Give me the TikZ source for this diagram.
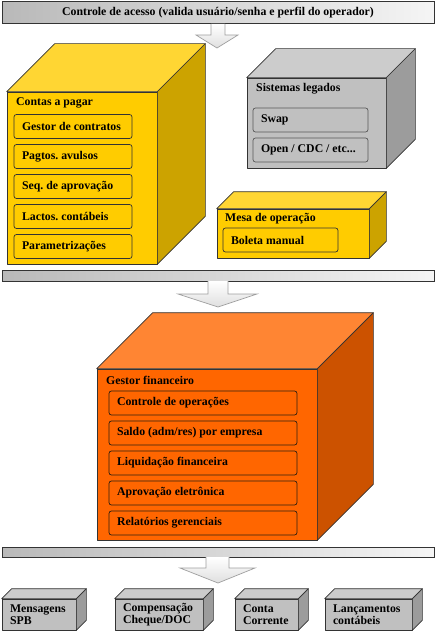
\documentclass[tikz,border=0pt]{standalone}
\usepackage{fontspec}
\setmainfont{Liberation Serif}
\usetikzlibrary{calc}
\frenchspacing

\definecolor{amarelo}{HTML}{FFCC00}
\definecolor{amarelotopo}{HTML}{FFD633}
\definecolor{amarelolado}{HTML}{CCA300}
\definecolor{cinza}{HTML}{C0C0C0}
\definecolor{cinzatopo}{HTML}{CCCCCC}
\definecolor{cinzalado}{HTML}{9C9C9C}
\definecolor{laranja}{HTML}{FF6600}
\definecolor{laranjatopo}{HTML}{FF8533}
\definecolor{laranjalado}{HTML}{CC5200}

% top and side faces of a box drawn behind a front node
\newcommand{\cubo}[4]{%
  \draw[face, fill=#3] (#1.north west) -- ++(#2,-#2) -- ($(#1.north east)+(#2,-#2)$) -- (#1.north east) -- cycle;
  \draw[face, fill=#4] (#1.north east) -- ++(#2,-#2) -- ($(#1.south east)+(#2,-#2)$) -- (#1.south east) -- cycle;
}
% left aligned text in a box of fixed width
\newcommand{\linha}[2]{\makebox[#1][l]{#2}}

\begin{document}
\begin{tikzpicture}[
x=1pt, y=-1pt,
every node/.style = {font=\bfseries\fontsize{11.8}{12}\selectfont, inner sep=0pt},
face/.style = {draw=black!80, line width=0.7pt, line join=round},
frente/.style = {face, shape=rectangle},
barra/.style = {draw=black!80, line width=1pt, left color=gray!55, right color=gray!8, minimum width=432},
item/.style = {draw=#1, rounded corners=2.5pt, line width=0.7pt, minimum height=24, inner xsep=8pt},
seta/.style = {draw=gray!75, line width=0.7pt, top color=white, bottom color=gray!25},
]
\useasboundingbox (0,0) rectangle (438,639);

\node[barra, minimum height=22] (acesso) at (218,13) {Controle de acesso (valida usuário/senha e perfil do operador)};

\node[frente, fill=amarelo, minimum width=150, minimum height=172] (contas) at (82,178) {};
\cubo{contas}{48}{amarelotopo}{amarelolado}
\node[anchor=west] (contastit) at (16,103) {Contas a pagar};
\foreach \txt [count=\i] in {Gestor de contratos, Pagtos. avulsos, Seq. de aprovação, Lactos. contábeis, Parametrizações}
  \node[item=black!80, fill=amarelo] (contas\i) at (73,{127+30*(\i-1)-0.5}) {\linha{102pt}{\txt}};

\node[frente, fill=cinza, minimum width=139, minimum height=90] (legados) at (316.5,123) {};
\cubo{legados}{29}{cinzatopo}{cinzalado}
\node[anchor=west] (legadostit) at (256,89) {Sistemas legados};
\node[item=black!65, fill=cinza] (swap) at (310.5,120) {\linha{99pt}{Swap}};
\node[item=black!65, fill=cinza] (open) at (310.5,150) {\linha{99pt}{Open / CDC / etc...}};

\node[frente, fill=amarelo, minimum width=152, minimum height=49] (mesa) at (293,233.5) {};
\cubo{mesa}{17}{amarelotopo}{amarelolado}
\node[anchor=west] (mesatit) at (225,219) {Mesa de operação};
\node[item=black!80, fill=amarelo] (boleta) at (280.5,240) {\linha{99pt}{Boleta manual}};

\node[barra, minimum height=11] (meio) at (218,275.5) {};

\node[frente, fill=laranja, minimum width=220, minimum height=171] (gestor) at (207,454.5) {};
\cubo{gestor}{56}{laranjatopo}{laranjalado}
\node[anchor=west] (gestortit) at (106,380) {Gestor financeiro};
\foreach \txt [count=\i] in {Controle de operações, Saldo (adm/res) por empresa, Liquidação financeira, Aprovação eletrônica, Relatórios gerenciais}
  \node[item=black!75!brown, fill=laranja] (gestor\i) at (203,{403+30*(\i-1)}) {\linha{172pt}{\txt}};

\node[barra, minimum height=10] (baixo) at (218,552) {};

\foreach \nome/\cx/\w/\txt in {spb/39/74/{Mensagens\\SPB}, compensacao/159/88/{Compensação\\Cheque/DOC}, conta/266.5/63/{Conta\\Corrente}, lancamentos/368.5/87/{Lançamentos\\contábeis}}
{
  \node[frente, fill=cinza, minimum width=\w, minimum height=31, inner xsep=8pt, text width=\w-16, align=left] (\nome) at (\cx,614.5) {\txt};
  \cubo{\nome}{10}{cinzatopo}{cinzalado}
}

\draw[seta] (211,24) -- (211,35) -- (196,35) -- (217,48) -- (238,35) -- (225,35) -- (225,24);
\draw[seta] (208,281) -- (208,294) -- (178,294) -- (218,307) -- (257,294) -- (228,294) -- (228,281);
\draw[seta] (206,557) -- (206,568) -- (180,568) -- (218,583) -- (255,568) -- (229,568) -- (229,557);
\end{tikzpicture}
\end{document}
